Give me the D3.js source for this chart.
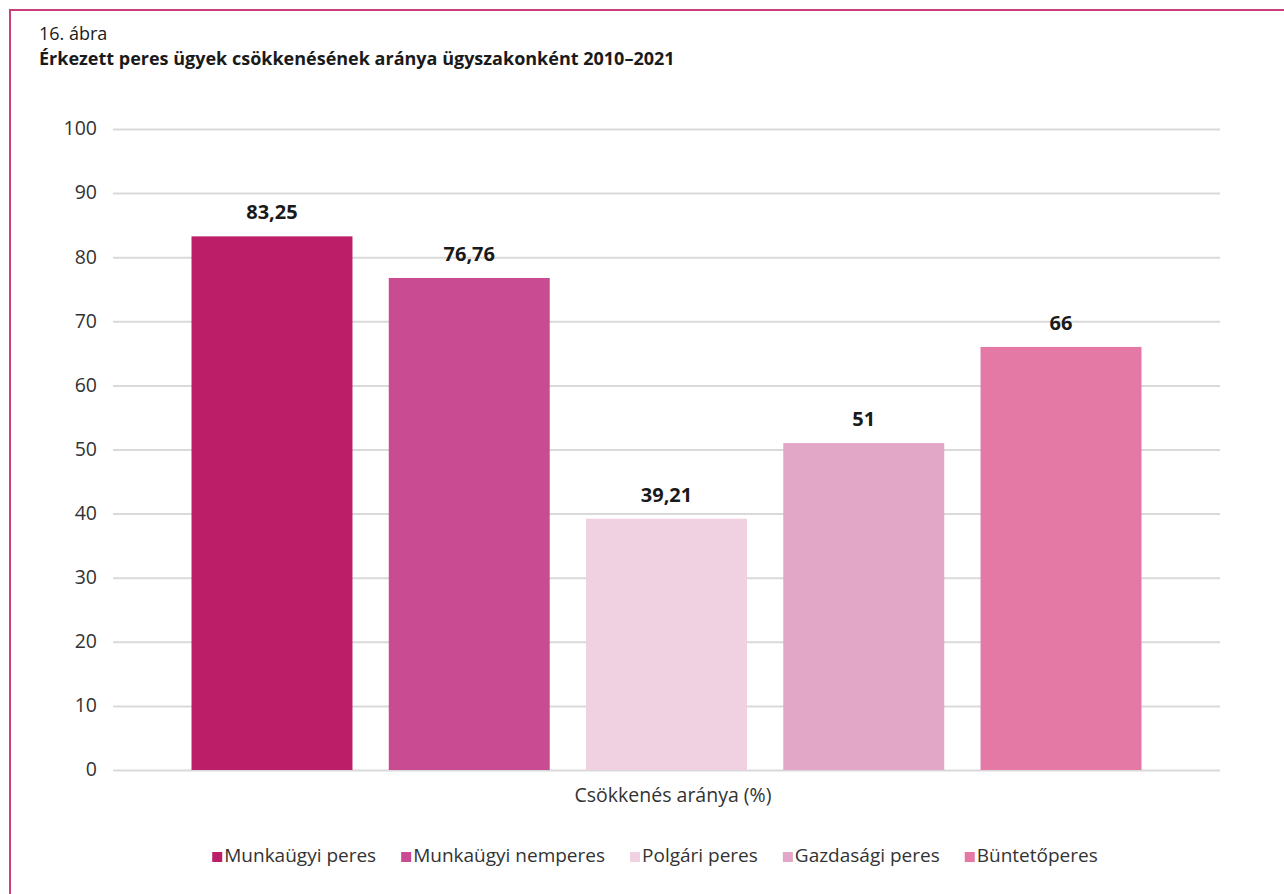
<!DOCTYPE html>
<html>
<head>
<meta charset="utf-8">
<script src="https://cdn.jsdelivr.net/npm/d3@7"></script>
<style>
  body { margin: 0; background: #fff; }
  text { font-family: "Open Sans", "Noto Sans", sans-serif; }
</style>
</head>
<body>
<div id="chart"></div>
<script>
// data
var series = ["Munkaügyi peres", "Munkaügyi nemperes", "Polgári peres", "Gazdasági peres", "Büntetőperes"];
var values = [83.25, 76.76, 39.21, 51, 66];
var labels = ["83,25", "76,76", "39,21", "51", "66"];
var colors = ["#bc1f67", "#c94b91", "#f0d1e2", "#e2a6c6", "#e479a5"];
var yTicks = [0, 10, 20, 30, 40, 50, 60, 70, 80, 90, 100];
var figNo = "16. ábra";
var title = "Érkezett peres ügyek csökkenésének aránya ügyszakonként 2010–2021";
var xTitle = "Csökkenés aránya (%)";

var width = 1284, height = 894;
var margin = { top: 129, right: 64, bottom: 124, left: 113 };

var svg = d3.select("#chart").append("svg")
    .attr("width", width)
    .attr("height", height);

// frame (top and left rule)
svg.append("path")
    .attr("d", "M10," + height + "V10H" + width)
    .attr("fill", "none")
    .attr("stroke", "#c8407c")
    .attr("stroke-width", 2);

svg.append("text")
    .attr("x", 39).attr("y", 40)
    .attr("font-size", 18)
    .attr("fill", "#1a1a1a")
    .text(figNo);

svg.append("text")
    .attr("x", 39).attr("y", 65)
    .attr("font-size", 18)
    .attr("font-weight", "bold")
    .attr("fill", "#1a1a1a")
    .text(title);

var x = d3.scaleBand()
    .domain(series)
    .range([margin.left, width - margin.right])
    .paddingInner(0.184)
    .paddingOuter(0.398);

var y = d3.scaleLinear()
    .domain([0, 100])
    .range([height - margin.bottom, margin.top]);

// gridlines + y labels
var yAxis = svg.append("g")
    .attr("transform", "translate(" + margin.left + ",0)")
    .call(d3.axisLeft(y).tickValues(yTicks).tickSize(-(width - margin.left - margin.right)).tickPadding(16));
yAxis.select(".domain").remove();
yAxis.selectAll(".tick line").attr("stroke", "#d9d9d9").attr("stroke-width", 2);
yAxis.selectAll(".tick text")
    .attr("font-size", 19.5)
    .attr("fill", "#333")
    .attr("dy", "0.3em")
    .style("font-family", "'Open Sans', sans-serif");

svg.selectAll("rect.bar")
    .data(values)
    .enter().append("rect")
    .attr("class", "bar")
    .attr("x", function(d, i) { return x(series[i]); })
    .attr("width", x.bandwidth())
    .attr("y", function(d) { return y(d); })
    .attr("height", function(d) { return y(0) - y(d); })
    .attr("fill", function(d, i) { return colors[i]; });

svg.selectAll("text.val")
    .data(values)
    .enter().append("text")
    .attr("class", "val")
    .attr("x", function(d, i) { return x(series[i]) + x.bandwidth() / 2; })
    .attr("y", function(d) { return y(d) - 17; })
    .attr("text-anchor", "middle")
    .attr("font-size", 20)
    .attr("font-weight", "bold")
    .attr("fill", "#1a1a1a")
    .text(function(d, i) { return labels[i]; });

svg.append("text")
    .attr("x", 673)
    .attr("y", 802)
    .attr("text-anchor", "middle")
    .attr("font-size", 19.5)
    .attr("fill", "#333")
    .text(xTitle);

// legend, centred
var legend = svg.append("g");
var lx = 0;
series.forEach(function(s, i) {
    var g = legend.append("g").attr("transform", "translate(" + lx + ",0)");
    g.append("rect").attr("x", 0).attr("y", -10).attr("width", 10).attr("height", 10).attr("fill", colors[i]);
    var t = g.append("text").attr("x", 12).attr("y", 0)
        .attr("font-size", 19).attr("fill", "#333").text(s);
    lx += 12 + t.node().getComputedTextLength() + 25;
});
lx -= 25;
legend.attr("transform", "translate(" + (655 - lx / 2) + ",862)");
</script>
</body>
</html>
